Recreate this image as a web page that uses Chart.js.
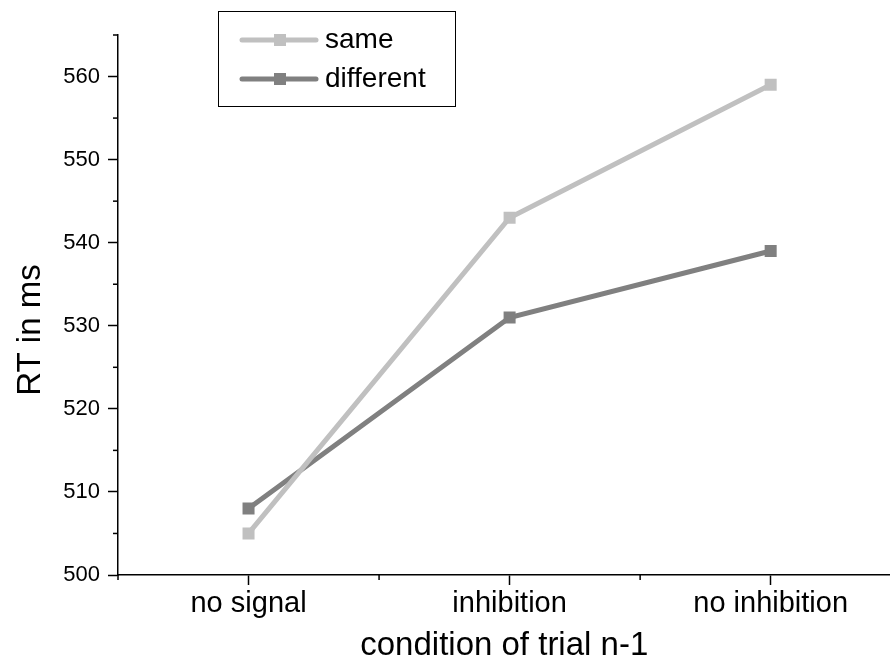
<!DOCTYPE html>
<html>
<head>
<meta charset="utf-8">
<script src="https://cdn.jsdelivr.net/npm/chart.js@4/dist/chart.umd.min.js"></script>
<style>
  html, body { margin: 0; padding: 0; background: #fff; overflow: hidden; }
  canvas { display: block; }
</style>
</head>
<body>
<canvas id="rtChart" width="899" height="671"></canvas>
<script>
/* RT by condition of trial n-1 */

const categories = ['no signal', 'inhibition', 'no inhibition'];
const seriesNames = ['same', 'different'];
const sameRT = [505, 543, 559];
const differentRT = [508, 531, 539];
const yTicks = [500, 505, 510, 515, 520, 525, 530, 535, 540, 545, 550, 555, 560, 565];
const xTicks = [-0.5, 0, 0.5, 1, 1.5, 2];

const FONT = "'Liberation Sans', Arial, sans-serif";

// minor ticks (shorter) + y title + legend box
const extras = {
    id: 'extras',
    afterDraw(chart) {
        const ctx = chart.ctx;
        const xs = chart.scales.x, ys = chart.scales.y;
        ctx.save();
        ctx.strokeStyle = '#000';
        ctx.lineWidth = 1.5;
        ys.ticks.forEach(t => {
            if (t.value % 10 !== 0) {
                const py = ys.getPixelForValue(t.value);
                ctx.beginPath();
                ctx.moveTo(ys.right, py);
                ctx.lineTo(ys.right - 5, py);
                ctx.stroke();
            }
        });
        xs.ticks.forEach(t => {
            if (!Number.isInteger(t.value)) {
                const px = xs.getPixelForValue(t.value);
                ctx.beginPath();
                ctx.moveTo(px, xs.top);
                ctx.lineTo(px, xs.top + 5);
                ctx.stroke();
            }
        });

        // y axis title
        ctx.fillStyle = '#000';
        ctx.font = '33px ' + FONT;
        ctx.textAlign = 'center';
        ctx.textBaseline = 'middle';
        ctx.translate(31, 330);
        ctx.rotate(-Math.PI / 2);
        ctx.fillText('RT in ms', 0, 0);
        ctx.restore();

        // legend
        ctx.save();
        ctx.strokeStyle = '#000';
        ctx.lineWidth = 1;
        ctx.strokeRect(218.5, 11.5, 237, 95);
        chart.data.datasets.forEach((ds, i) => {
            const y = 40 + i * 39;
            ctx.strokeStyle = ds.borderColor;
            ctx.lineWidth = 5;
            ctx.lineCap = 'round';
            ctx.beginPath();
            ctx.moveTo(242, y);
            ctx.lineTo(316, y);
            ctx.stroke();
            ctx.fillStyle = ds.borderColor;
            ctx.fillRect(274, y - 6, 12, 12);
            ctx.fillStyle = '#000';
            ctx.font = '28px ' + FONT;
            ctx.textAlign = 'left';
            ctx.textBaseline = 'middle';
            ctx.fillText(ds.label, 325, y);
        });
        ctx.restore();
    }
};

new Chart(document.getElementById('rtChart'), {
    type: 'line',
    data: {
        datasets: [
            {
                label: seriesNames[0],
                data: sameRT.map((v, i) => ({ x: i, y: v })),
                borderColor: '#c0c0c0',
                backgroundColor: '#c0c0c0',
                borderWidth: 5,
                pointStyle: 'rect',
                pointRadius: 8.5,
                pointBorderWidth: 0,
                pointBackgroundColor: '#c0c0c0'
            },
            {
                label: seriesNames[1],
                data: differentRT.map((v, i) => ({ x: i, y: v })),
                borderColor: '#808080',
                backgroundColor: '#808080',
                borderWidth: 5,
                pointStyle: 'rect',
                pointRadius: 8.5,
                pointBorderWidth: 0,
                pointBackgroundColor: '#808080'
            }
        ]
    },
    options: {
        responsive: false,
        devicePixelRatio: 1,
        animation: false,
        layout: { padding: { top: 35, left: 0, right: 0, bottom: 0 } },
        plugins: {
            legend: { display: false },
            tooltip: { enabled: false }
        },
        scales: {
            x: {
                type: 'linear',
                min: -0.5,
                max: 2.459,
                afterBuildTicks: s => { s.ticks = xTicks.map(v => ({ value: v })); },
                afterFit: s => { s.height = 96; s.paddingLeft = 0; s.paddingRight = 0; },
                border: { display: true, color: '#000', width: 1.5 },
                grid: {
                    drawOnChartArea: false,
                    tickLength: 10,
                    tickWidth: 1.5,
                    tickColor: c => Number.isInteger(c.tick.value) ? '#000' : 'rgba(0,0,0,0)'
                },
                ticks: {
                    autoSkip: false,
                    maxRotation: 0,
                    padding: 2,
                    color: '#000',
                    font: { family: FONT, size: 29 },
                    callback: v => Number.isInteger(v) ? categories[v] : ''
                },
                title: {
                    display: true,
                    text: 'condition of trial n-1',
                    color: '#000',
                    font: { family: FONT, size: 33 },
                    padding: { top: 0, bottom: 5 }
                }
            },
            y: {
                min: 500,
                max: 565,
                afterBuildTicks: s => { s.ticks = yTicks.map(v => ({ value: v })); },
                afterFit: s => { s.width = 118; s.paddingTop = 0; s.paddingBottom = 0; },
                border: { display: true, color: '#000', width: 1.5 },
                grid: {
                    drawOnChartArea: false,
                    tickLength: 10,
                    tickWidth: 1.5,
                    tickColor: c => c.tick.value % 10 === 0 ? '#000' : 'rgba(0,0,0,0)'
                },
                ticks: {
                    autoSkip: false,
                    padding: 8,
                    color: '#000',
                    font: { family: FONT, size: 22 },
                    callback: v => v % 10 === 0 ? v : ''
                }
            }
        }
    },
    plugins: [extras]
});
</script>
</body>
</html>
